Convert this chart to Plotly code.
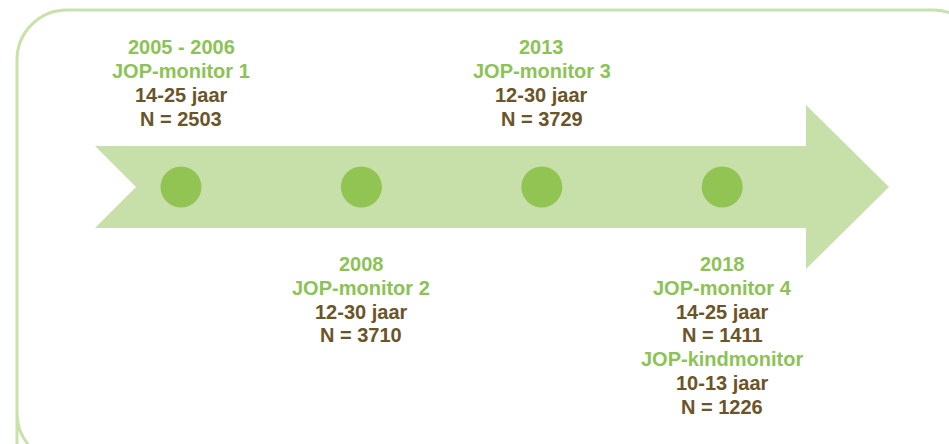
import plotly.graph_objects as go

# ---- data ----
periods = ["2005 - 2006", "2008", "2013", "2018"]
monitors = ["JOP-monitor 1", "JOP-monitor 2", "JOP-monitor 3", "JOP-monitor 4"]
age_ranges = ["14-25 jaar", "12-30 jaar", "12-30 jaar", "14-25 jaar"]
sample_sizes = [2503, 3710, 3729, 1411]
extra_monitor = ["", "", "", "JOP-kindmonitor"]
extra_ages = ["", "", "", "10-13 jaar"]
extra_sizes = [None, None, None, 1226]

# ---- styling / layout ----
W, H = 949, 444
GREEN_TXT = "#8cc256"
BROWN_TXT = "#6b5528"
ARROW = "#c7dfa9"
DOT = "#92c454"
BORDER = "#c9e1aa"
FONT = "Liberation Sans"
FS = 20

x0, dx = 181, 180.4
xs = [x0 + dx * i for i in range(len(periods))]
axis_y = 187

fig = go.Figure()

# border (rounded rectangle partly off-canvas)
r = 50
k = 0.5523 * r
L, T, R, B = 17, 10, 983, 463
border = (f"M {L},{H+20} L {L},{B-r} C {L},{B-r+k} {L+r-k},{B} {L+r},{B} "
          f"L {R-r},{B} C {R-r+k},{B} {R},{B-r+k} {R},{B-r} L {R},{T+r} "
          f"C {R},{T+r-k} {R-r+k},{T} {R-r},{T} L {L+r},{T} "
          f"C {L+r-k},{T} {L},{T+r-k} {L},{T+r} Z")
fig.add_shape(type="path", path=border, line=dict(color=BORDER, width=3),
              fillcolor="rgba(0,0,0,0)", layer="below")

# arrow
arrow = (f"M 95,146 L 806,146 L 806,105 L 889,{axis_y} L 806,269 L 806,228 "
         f"L 95,228 L 136,{axis_y} Z")
fig.add_shape(type="path", path=arrow, fillcolor=ARROW, line=dict(width=0), layer="below")

# dots
fig.add_trace(go.Scatter(x=xs, y=[axis_y] * len(xs), mode="markers",
                         marker=dict(size=41, color=DOT, line=dict(width=0)),
                         hoverinfo="skip", showlegend=False))

def add_lines(x, y_start, lines, step=24):
    for j, (txt, col) in enumerate(lines):
        fig.add_annotation(x=x, y=y_start + j * step, text=txt, showarrow=False,
                           xanchor="center", yanchor="middle",
                           font=dict(family=FONT, size=FS, color=col, weight="bold"))

for i in range(len(periods)):
    lines = [(periods[i], GREEN_TXT), (monitors[i], GREEN_TXT),
             (age_ranges[i], BROWN_TXT), (f"N = {sample_sizes[i]}", BROWN_TXT)]
    if extra_monitor[i]:
        lines += [(extra_monitor[i], GREEN_TXT), (extra_ages[i], BROWN_TXT),
                  (f"N = {extra_sizes[i]}", BROWN_TXT)]
    top = (i % 2 == 0)
    add_lines(xs[i], 47 if top else 264, lines, step=24 if top else 23.8)

fig.update_layout(width=W, height=H, margin=dict(l=0, r=0, t=0, b=0),
                  paper_bgcolor="white", plot_bgcolor="white",
                  xaxis=dict(range=[0, W], visible=False, fixedrange=True),
                  yaxis=dict(range=[H, 0], visible=False, fixedrange=True),
                  showlegend=False)

fig.write_html("out.html", config={"displayModeBar": False},
               post_script="document.body.style.margin='0';document.body.style.overflow='hidden';")
